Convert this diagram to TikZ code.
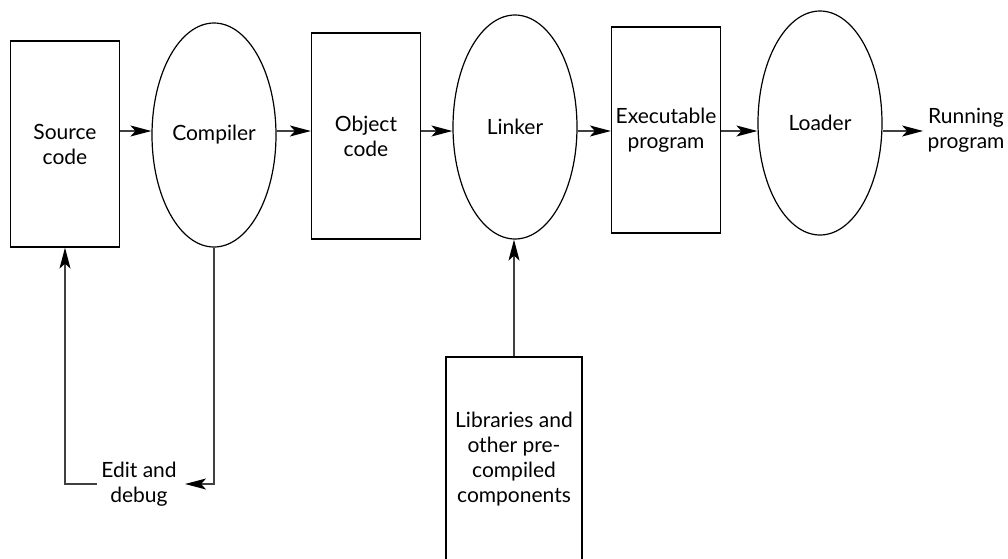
\documentclass[tikz,border=0pt]{standalone}
\usepackage{fontspec}
\setmainfont{Lato}
\usepackage{tikz}
\usetikzlibrary{arrows.meta}
\usetikzlibrary{shapes.geometric}
\newcommand{\boxwidth}{54.5pt}
\newcommand{\boxheight}{103pt}
\newcommand{\ovalwidth}{62pt}
\newcommand{\ovalheight}{112pt}

\begin{document}
\begin{tikzpicture}[x=0.5pt,y=-0.5pt,
    font=\fontsize{10.5}{12.5}\selectfont]
                \path[use as bounding box,clip] (0,0) rectangle (1008,558);

                \begin{scope}[every node/.style={draw=black,line width=0.6pt,align=center,inner sep=0pt}]
                    \node[rectangle,minimum width=\boxwidth,minimum height=\boxheight] (src) at (65,144) {Source\\code};
                    \node[ellipse,minimum width=\ovalwidth,minimum height=\ovalheight] (comp) at (214,135) {Compiler};
                    \node[rectangle,minimum width=\boxwidth,minimum height=\boxheight] (obj) at (366,136) {Object\\code};
                    \node[ellipse,minimum width=\ovalwidth,minimum height=\ovalheight] (link) at (515,127) {Linker};
                    \node[rectangle,minimum width=\boxwidth,minimum height=\boxheight] (exe) at (666,130) {Executable\\program};
                    \node[ellipse,minimum width=\ovalwidth,minimum height=\ovalheight] (load) at (820,123) {Loader};
                    \node[rectangle,minimum width=68pt,minimum height=102pt] (libs) at (514,459) {Libraries and\\other pre-\\compiled\\components};
                \end{scope}

                \begin{scope}[every node/.style={align=center,inner sep=2pt}]
                    \node (run) at (966,130) {Running\\program};
                    \node (edit) at (139,484) {Edit and\\debug};
                \end{scope}

                \coordinate (row) at (0,131);

                \begin{scope}[>={Stealth[length=10.5pt,width=5.5pt,inset=2.5pt,black]},
                    every edge/.style={draw=black!75,line width=0.7pt}]
                    \path [->] (src.east |- row) edge (comp.west |- row);
                    \path [->] (comp.east |- row) edge (obj.west |- row);
                    \path [->] (obj.east |- row) edge (link.west |- row);
                    \path [->] (link.east |- row) edge (exe.west |- row);
                    \path [->] (exe.east |- row) edge (load.west |- row);
                    \path [->] (load.east |- row) edge (run.west |- row);

                    \path [->] (libs.north) edge (libs.north |- link.south);

                    % edit and debug loop
                    \path [->] (comp.south) edge [to path={|- (\tikztotarget)}] ([xshift=2pt]edit.east);
                    \path [->] (edit.west) edge [to path={-| (\tikztotarget)}] (src.south);
                \end{scope}
            \end{tikzpicture}
\end{document}
